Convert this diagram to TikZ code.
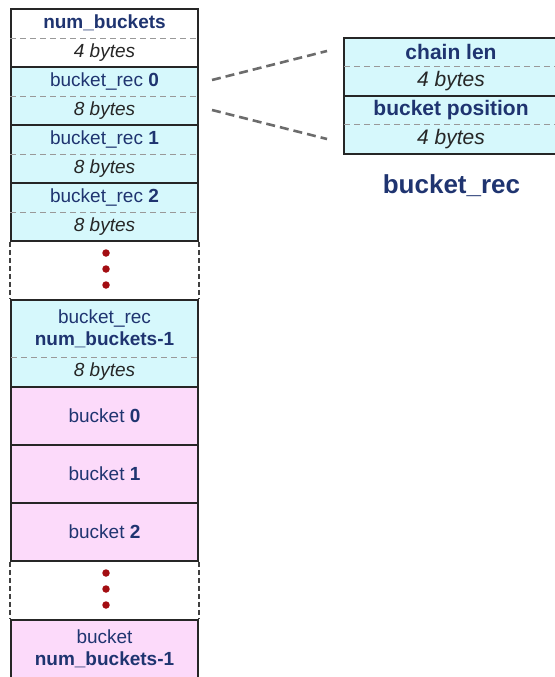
\documentclass[tikz,border=0pt]{standalone}
\usepackage{fontspec}
\setmainfont{Liberation Sans}
\usetikzlibrary{positioning}
\definecolor{recblue}{HTML}{D6F8FC}
\definecolor{bktpink}{HTML}{FCDAFA}
\definecolor{labelnavy}{HTML}{1F3470}
\definecolor{dotred}{HTML}{A30D12}
\tikzset{
cell/.style={draw=black!85,line width=1.8pt,minimum width=187pt,minimum height=58pt,inner sep=0pt},
lbl/.style={text=labelnavy,align=center,font=\fontsize{19}{22}\selectfont},
bigbox/.style={text=labelnavy,align=center,font=\fontsize{21}{24}\selectfont},
sizetxt/.style={text=black!85,font=\fontsize{19}{22}\selectfont\itshape},
bigsize/.style={text=black!85,font=\fontsize{21}{24}\selectfont\itshape},
split/.style={draw=gray!80,line width=0.9pt,dash pattern=on 6pt off 4pt},
gapside/.style={draw=black!75,line width=1.8pt,dash pattern=on 5pt off 3pt},
reddot/.style={circle,fill=dotred,inner sep=0pt,minimum size=7.5pt},
link/.style={draw=gray!85!black,line width=2.6pt,dash pattern=on 9pt off 5pt}
}
\begin{document}
\begin{tikzpicture}[x=1pt,y=-1pt]
	\useasboundingbox (0,0) rectangle (554,677);
	\node[cell,fill=white] (nb) at (104.5,38) {};
	\draw[split] (nb.west) -- (nb.east);
	\node[lbl] (nbname) at (104.5,23) {\textbf{num\_buckets}};
	\node[sizetxt] (nbsize) at (104.5,52.5) {4 bytes};
	\foreach \i in {0,1,2}{
		\node[cell,fill=recblue] (rec\i) at (104.5,96+58*\i) {};
		\draw[split] (rec\i.west) -- (rec\i.east);
		\node[lbl] (recname\i) at (104.5,81.5+58*\i) {bucket\_rec \textbf{\i}};
		\node[sizetxt] (recsize\i) at (104.5,110.5+58*\i) {8 bytes};
	}
	\node[cell,fill=recblue,minimum height=87pt] (recN) at (104.5,343.5) {};
	\draw[split] (11,357) -- (198,357);
	\node[lbl] (recNname) at (104.5,328.5) {bucket\_rec\\\textbf{num\_buckets-1}};
	\node[sizetxt] (recNsize) at (104.5,372) {8 bytes};
	\draw[gapside] (rec2.south west) -- (recN.north west);
	\draw[gapside] (rec2.south east) -- (recN.north east);
	\foreach \d in {253,269,285}
		\node[reddot] (dotA\d) at (106,\d) {};
	\foreach \i in {0,1,2}
		\node[cell,fill=bktpink,lbl] (bkt\i) at (104.5,416+58*\i) {bucket \textbf{\i}};
	\node[cell,fill=bktpink,lbl] (bktN) at (104.5,649) {bucket\\\textbf{num\_buckets-1}};
	\draw[gapside] (bkt2.south west) -- (bktN.north west);
	\draw[gapside] (bkt2.south east) -- (bktN.north east);
	\foreach \d in {573,589,605}
		\node[reddot] (dotB\d) at (106,\d) {};
	\node[cell,fill=recblue,minimum width=221pt,minimum height=116pt] (brec) at (454.5,96) {};
	\draw[split] (344,66.5) -- (565,66.5);
	\draw[split] (344,124.5) -- (565,124.5);
	\draw[draw=black!85,line width=1.8pt] (brec.west) -- (brec.east);
	\node[bigbox] (chain) at (451,52) {\textbf{chain len}};
	\node[bigsize] (chainsize) at (451,81) {4 bytes};
	\node[bigbox] (pos) at (451,110) {\textbf{bucket position}};
	\node[bigsize] (possize) at (451,139) {4 bytes};
	\node[text=labelnavy,font=\fontsize{26}{30}\selectfont\bfseries] (title) at (451.5,186) {bucket\_rec};
	\coordinate (linkA) at (212,80);
	\coordinate (linkB) at (212,110);
	\coordinate (linkC) at (327,51);
	\coordinate (linkD) at (327,139);
	\draw[link] (linkA) -- (linkC);
	\draw[link] (linkB) -- (linkD);
\end{tikzpicture}
\end{document}
